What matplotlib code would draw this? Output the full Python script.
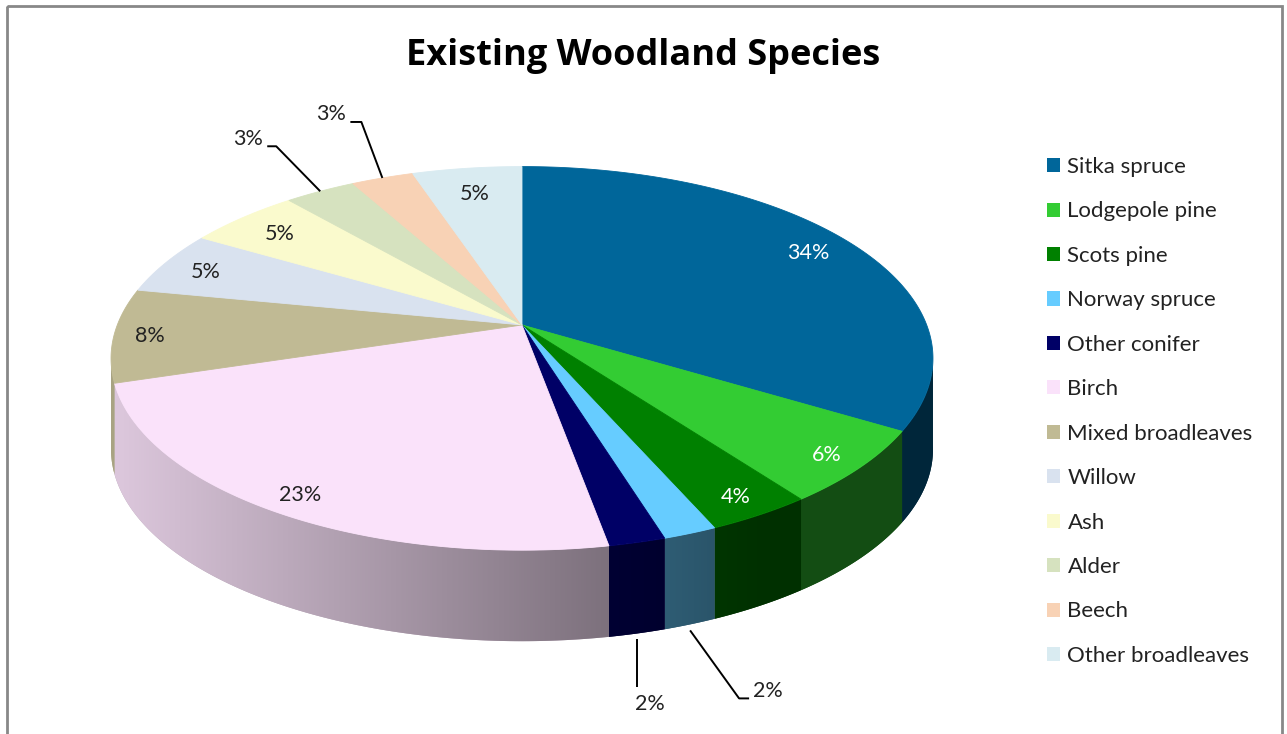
import numpy as np
import matplotlib
matplotlib.use("Agg")
import matplotlib.pyplot as plt
from matplotlib.patches import Polygon, Patch, Rectangle
from matplotlib.colors import to_rgb

# ---------------- data ----------------
species = ["Sitka spruce", "Lodgepole pine", "Scots pine", "Norway spruce",
           "Other conifer", "Birch", "Mixed broadleaves", "Willow", "Ash",
           "Alder", "Beech", "Other broadleaves"]
shares = [33.7, 6.2, 3.55, 1.8, 1.9, 23.05, 7.9, 5.4, 5.2, 3.3, 2.9, 5.1]
colors = ["#00669a", "#33cc33", "#008000", "#66ccff", "#000066", "#fae2fa",
          "#c0ba94", "#d9e2ef", "#fafacd", "#d6e2bf", "#f8d2b5", "#d9ebf1"]
label_colors = ["white", "white", "white", "#222222", "#222222", "#222222",
                "#222222", "#222222", "#222222", "#222222", "#222222", "#222222"]
title = "Existing Woodland Species"

# ---------------- layout / style ----------------
W, H = 1287, 734
FONT = ["Lato", "DejaVu Sans"]
plt.rcParams["font.family"] = FONT

fig = plt.figure(figsize=(W / 100, H / 100), dpi=100)
ax = fig.add_axes([0, 0, 1, 1])
ax.set_xlim(0, W)
ax.set_ylim(H, 0)
ax.axis("off")

CX, CY = 522, 325          # apex of the pie on screen
SX, SY = 404.7, 186.0      # projected radii
P = -0.174                 # perspective factor
DEPTH = 91                 # thickness of the pie
VIS0, VIS1 = 99.0, 261.0   # angular range where the outer wall faces the viewer


def proj(phi_deg, r=1.0):
    phi = np.radians(phi_deg)
    X = r * np.sin(phi)
    Y = -r * np.cos(phi)
    w = 1 + P * Y
    return CX + SX * X / w, CY + SY * Y / w


X_DARK = proj(150.0)[0]
X_LIGHT = proj(250.0)[0]


def shade_x(x):
    t = np.clip((X_DARK - x) / (X_DARK - X_LIGHT), 0, 1)
    return 0.38 + 0.5 * t


n = len(shares)
total = float(sum(shares))
bounds = np.concatenate([[0.0], np.cumsum(shares) / total * 360.0])

# ---------------- side walls (gradient shaded) ----------------
for i in range(n):
    a0 = max(bounds[i], VIS0)
    a1 = min(bounds[i + 1], VIS1)
    if a1 <= a0:
        continue
    m = max(4, int((a1 - a0) / 0.2))
    ph = np.linspace(a0, a1, m + 1)
    xs, ys = proj(ph)
    pts = list(zip(xs, ys)) + list(zip(xs[::-1], ys[::-1] + DEPTH))
    base = np.array(to_rgb(colors[i]))
    xmid = xs.mean()
    poly = Polygon(pts, closed=True, facecolor=np.clip(base * shade_x(xmid), 0, 1),
                   edgecolor="none", zorder=1)
    ax.add_patch(poly)
    x0, x1 = xs.min() - 1, xs.max() + 1
    y0, y1 = ys.min() - 1, ys.max() + DEPTH + 1
    ncol = max(2, int(x1 - x0) + 1)
    cx = np.linspace(x0, x1, ncol)
    img = np.clip(base[None, None, :] * shade_x(cx)[None, :, None], 0, 1)
    im = ax.imshow(img, extent=(x0, x1, y1, y0), aspect="auto",
                   interpolation="bilinear", zorder=1.1)
    im.set_clip_path(poly)

ax.set_xlim(0, W)
ax.set_ylim(H, 0)

# ---------------- top faces ----------------
for i in range(n):
    a0, a1 = bounds[i], bounds[i + 1]
    m = max(4, int((a1 - a0) / 0.25))
    ph = np.linspace(a0, a1, m + 1)
    xs, ys = proj(ph)
    pts = [(CX, CY)] + list(zip(xs, ys))
    ax.add_patch(Polygon(pts, closed=True, facecolor=colors[i],
                         edgecolor=colors[i], lw=0.6, zorder=2))

# ---------------- data labels ----------------
LBL_SIZE = 15.5
outside = {
    # index: (elbow offset, end offset, text offset, ha, front?)
    3: ((49, 68), (59, 68), (4, -7), "left", True),
    4: ((0, 48), (0, 48), (-2, 17), "left", True),
    9: ((-44, -45), (-53, -45), (-4, -7), "right", False),
    10: ((-21, -56), (-32, -56), (-4, -8), "right", False),
}
for i in range(n):
    pct = "%.0f%%" % (shares[i] / total * 100)
    mid = 0.5 * (bounds[i] + bounds[i + 1])
    if i in outside:
        elb, end, toff, ha, front = outside[i]
        sx0, sy0 = proj(mid)
        if front:
            sy0 = sy0 + DEPTH + 6
        ax.plot([sx0, sx0 + elb[0], sx0 + end[0]],
                [sy0, sy0 + elb[1], sy0 + end[1]],
                color="black", lw=1.4, zorder=3, solid_capstyle="butt")
        ax.text(sx0 + end[0] + toff[0], sy0 + end[1] + toff[1], pct,
                ha=ha, va="center", fontsize=LBL_SIZE, color=label_colors[i],
                zorder=4)
    else:
        Ym = -np.cos(np.radians(mid))
        r = 0.912 + 0.085 * min(Ym, 0.0)
        lx, ly = proj(mid, r)
        ax.text(lx, ly, pct, ha="center", va="center_baseline",
                fontsize=LBL_SIZE, color=label_colors[i], zorder=4)

# ---------------- title ----------------
ax.text(643, 56, title, ha="center", va="center", fontsize=26,
        fontweight="bold", color="black", family=["Open Sans", "DejaVu Sans"])

# ---------------- legend ----------------
handles = [Patch(facecolor=c, edgecolor="none") for c in colors]
leg = ax.legend(handles, species, loc="upper left",
                bbox_to_anchor=(1047 / W, 1 - 157 / H),
                frameon=False, fontsize=16, handlelength=0.6,
                handleheight=0.6, handletextpad=0.32, labelspacing=1.10,
                borderpad=0, borderaxespad=0)
for t in leg.get_texts():
    t.set_color("#222222")

# ---------------- chart frame ----------------
ax.add_patch(Rectangle((7, 6), 1275, 800, fill=False, edgecolor="#888888",
                       lw=2.0, zorder=0))

fig.savefig("out.png", dpi=100, facecolor="white")
